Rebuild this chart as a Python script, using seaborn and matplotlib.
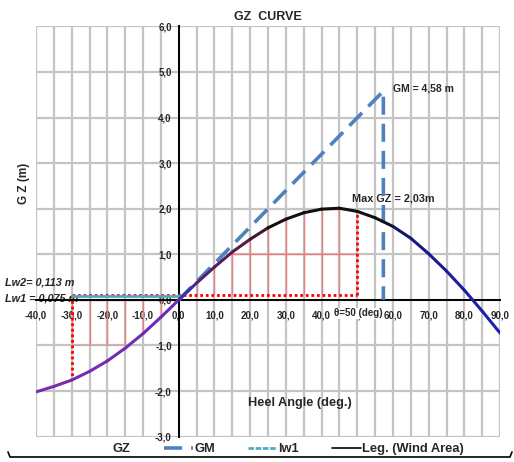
import numpy as np
import pandas as pd
import matplotlib
matplotlib.use("Agg")
import matplotlib.pyplot as plt
import seaborn as sns
from matplotlib.collections import LineCollection
from matplotlib.colors import LinearSegmentedColormap
from matplotlib.lines import Line2D
from matplotlib.patches import Polygon

# ---- data ----
angles = [-40, -35, -30, -25, -20, -15, -10, -5, 0, 5, 10, 15, 20, 25, 30, 35, 40,
          45, 50, 55, 60, 65, 70, 75, 80, 85, 90]
gz = [-2.02, -1.90, -1.76, -1.57, -1.34, -1.06, -0.74, -0.38, 0.0, 0.37, 0.72, 1.05,
      1.33, 1.58, 1.77, 1.91, 1.99, 2.01, 1.94, 1.80, 1.61, 1.35, 1.01, 0.63, 0.21,
      -0.25, -0.73]
gm_value = 4.58
gm_angle = 57.3
lw1_value = 0.075
lw2_value = 0.113
theta_start = -30
theta_end = 50
x_ticks = [-40, -30, -20, -10, 0, 10, 20, 30, 40, 50, 60, 70, 80, 90]
y_ticks = [-3, -2, -1, 0, 1, 2, 3, 4, 5, 6]

sns.set_theme(style="white")
plt.rcParams['font.family'] = ['Liberation Sans', 'DejaVu Sans']
plt.rcParams['font.weight'] = 'bold'

fig = plt.figure(figsize=(5.14, 4.62), dpi=100)
ax = fig.add_axes([0.070, 0.055, 0.903, 0.888])
ax.set_xlim(-40, 90)
ax.set_ylim(-3, 6)

# grid
ax.set_xticks(x_ticks)
ax.set_xticks(np.arange(-35, 90, 10), minor=True)
ax.set_yticks(y_ticks)
ax.grid(True, which='both', axis='x', color='#c4c4c4', lw=1.6, zorder=0)
ax.grid(True, which='major', axis='y', color='#c4c4c4', lw=1.6, zorder=0)
ax.set_axisbelow(True)

for s in ['top', 'right']:
    ax.spines[s].set_visible(False)
ax.spines['left'].set_position(('data', 0))
ax.spines['bottom'].set_position(('data', 0))
for s in ['left', 'bottom']:
    ax.spines[s].set_color('black')
    ax.spines[s].set_linewidth(1.4)
    ax.spines[s].set_zorder(3)
ax.tick_params(axis='both', which='major', direction='out', length=3, width=1,
               color='black', labelsize=7, pad=2)
ax.tick_params(axis='x', which='minor', length=0)
ax.tick_params(axis='x', pad=5)
ax.set_xticklabels([f"{v:.1f}".replace('.', ',') for v in x_ticks], fontweight='bold')
ax.set_yticklabels([f"{v:.1f}".replace('.', ',') for v in y_ticks], fontweight='bold')

ang = np.array(angles, dtype=float)
gzv = np.array(gz)

# red hatch-like lines clipped to wind areas
m_pos = (ang >= 0) & (ang <= theta_end)
m_neg = (ang >= theta_start) & (ang <= 0)
poly_pos = np.vstack([np.column_stack([ang[m_pos], gzv[m_pos]]),
                      [[theta_end, lw2_value], [0, lw2_value]]])
poly_neg = np.vstack([np.column_stack([ang[m_neg], np.maximum(gzv[m_neg], -1.0)]),
                      [[0, 0], [theta_start, 0]]])
for poly in [poly_pos, poly_neg]:
    patch = Polygon(poly, closed=True, facecolor='none', edgecolor='none')
    ax.add_patch(patch)
    for xv in np.arange(-35, 90, 5):
        ln = ax.axvline(xv, color='#e58080', lw=1.0, zorder=1)
        ln.set_clip_path(patch)
    for yv in y_ticks:
        ln = ax.axhline(yv, color='#e58080', lw=1.0, zorder=1)
        ln.set_clip_path(patch)

# red dotted lines
ax.plot([theta_start, theta_end], [lw2_value, lw2_value], color='red', lw=2,
        ls=(0, (1, 1)), zorder=4)
ax.plot([theta_end, theta_end], [lw2_value, gzv[ang == theta_end][0]], color='red',
        lw=2, ls=(0, (1, 1)), zorder=4)
ax.plot([theta_start, theta_start], [lw2_value, gzv[ang == theta_start][0]], color='red',
        lw=2, ls=(0, (1, 1)), zorder=4)

# lw1 line
lw_df = pd.DataFrame({'x': [theta_start, 0], 'y': [lw1_value, lw1_value]})
sns.lineplot(data=lw_df, x='x', y='y', ax=ax, color='#4BACC6', lw=2, zorder=4)

# GM line
gm_df = pd.DataFrame({'x': [0, gm_angle, gm_angle], 'y': [0, gm_value, 0]})
sns.lineplot(data=gm_df, x='x', y='y', ax=ax, sort=False, estimator=None,
             color='#4F81BD', lw=2.6, dashes=False, zorder=5)
ax.lines[-1].set_dashes([5, 2.5])

# GZ curve with gradient
cmap = LinearSegmentedColormap.from_list('gz', [
    (0.0, '#7d2cb0'), (0.30, '#6a2ab8'), (0.31, '#2a3ac0'), (0.36, '#5a2070'),
    (0.46, '#5a1a40'), (0.52, '#111111'), (0.75, '#111111'), (0.80, '#181880'),
    (1.0, '#1e22b0')])
pts = np.column_stack([ang, gzv])
segs = np.stack([pts[:-1], pts[1:]], axis=1)
mids = (ang[:-1] + ang[1:]) / 2
lc = LineCollection(segs, colors=cmap((mids + 40) / 130), lw=2.2, zorder=6,
                    capstyle='round', joinstyle='round')
ax.add_collection(lc)
ax.set_xlabel('')
ax.set_ylabel('')

# annotations
ax.text(60.1, 4.64, 'GM = 4,58 m', fontsize=7.5, fontweight='bold', ha='left', va='center')
ax.text(48.6, 2.22, 'Max GZ = 2,03m', fontsize=7.8, fontweight='bold', ha='left', va='center')
ax.text(-48.6, 0.37, 'Lw2= 0,113 m', fontsize=7.8, fontweight='bold', style='italic',
        ha='left', va='center', clip_on=False)
ax.text(-48.6, 0.04, 'Lw1 = 0,075 m', fontsize=7.8, fontweight='bold', style='italic',
        ha='left', va='center', clip_on=False)
ax.text(43.4, -0.29, 'θ=50 (deg)', fontsize=7, fontweight='bold', ha='left', va='center',
        zorder=8, bbox=dict(boxstyle='square,pad=0.05', fc='white', ec='none'))
ax.text(34, -2.26, 'Heel Angle (deg.)', fontsize=9.2, fontweight='bold', ha='center',
        va='center')
fig.text(0.521, 0.963, 'GZ  CURVE', fontsize=9, fontweight='bold', ha='center',
         va='center')
fig.text(0.047, 0.604, 'G Z (m)', fontsize=8.5, fontweight='bold', rotation=90,
         ha='center', va='center')

# legend
handles = [Line2D([], [], color='none'),
           Line2D([], [], color='#4F81BD', lw=2.6, dashes=[5, 2.5]),
           Line2D([], [], color='#4BACC6', lw=2, dashes=[2, 0.6]),
           Line2D([], [], color='black', lw=1.2)]
labels = ['GZ', 'GM', 'lw1', 'Leg. (Wind Area)']
fig.legend(handles, labels, loc='center', bbox_to_anchor=(0.532, 0.028), ncol=4,
           frameon=False, handlelength=2.2, handletextpad=0.1,
           columnspacing=2.6, prop={'weight': 'bold', 'size': 9.3})

# chart border (bottom)
fig.add_artist(Line2D([8/514, 10/514, 510/514, 512/514],
                      [1-452/462, 1-457/462, 1-457/462, 1-452/462],
                      color='black', lw=1.2, transform=fig.transFigure))

fig.savefig('out.png', dpi=100)
